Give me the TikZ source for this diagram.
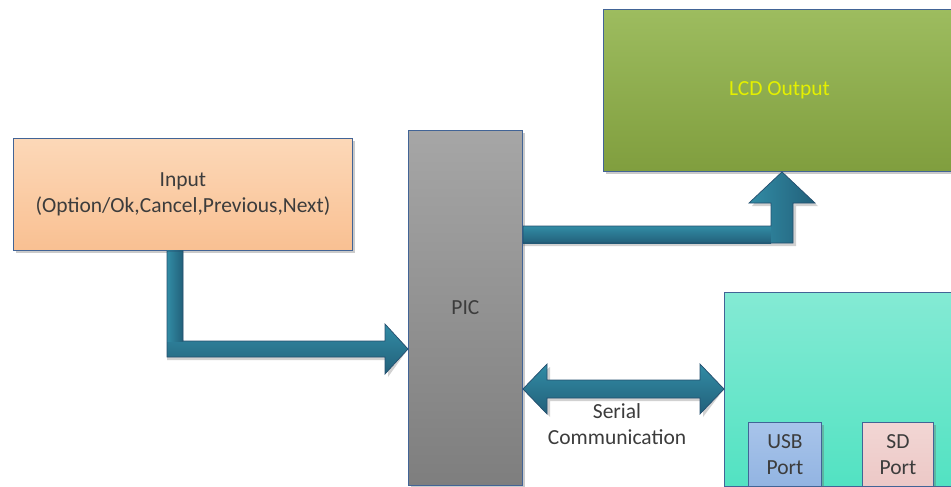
\documentclass[tikz,border=0pt]{standalone}
\usepackage{fontspec}
\setmainfont{Carlito}
\usetikzlibrary{shadows,calc}
\definecolor{edgeblue}{RGB}{66,100,150}
\definecolor{arrowtop}{RGB}{50,140,165}
\definecolor{arrowbot}{RGB}{34,96,122}
\definecolor{arrowedge}{RGB}{36,78,110}
\definecolor{txt}{RGB}{60,60,60}
\begin{document}
\begin{tikzpicture}[x=1pt,y=-1pt,
  blk/.style={draw=edgeblue, line width=0.9pt, anchor=north west, inner sep=0pt,
    font=\fontsize{21.5}{26}\selectfont, text=txt, align=center,
    drop shadow={shadow xshift=3pt, shadow yshift=-3pt, opacity=0.35, fill=black!60}},
  arrowshadow/.style={fill=black!60, opacity=0.3},
  vshade/.style={top color=arrowtop, bottom color=arrowbot},
  hshade/.style={left color=arrowtop, right color=arrowbot},
  arrowline/.style={draw=arrowedge, line width=0.7pt},
  lbl/.style={font=\fontsize{21.5}{26}\selectfont, text=txt, align=center}
]
\useasboundingbox (0,0) rectangle (951,487);

% main blocks
\node[blk, minimum width=339pt, minimum height=112pt,
  top color={rgb,255:red,252;green,216;blue,184}, bottom color={rgb,255:red,249;green,192;blue,146}]
  (in) at (13,138) {Input\\(Option/Ok,Cancel,Previous,Next)};
\node[blk, minimum width=114pt, minimum height=355pt,
  top color={rgb,255:red,166;green,166;blue,166}, bottom color={rgb,255:red,126;green,126;blue,126}]
  (pic) at (408,130) {PIC};
\node[blk, minimum width=352pt, minimum height=162pt, text={rgb,255:red,228;green,240;blue,0},
  top color={rgb,255:red,157;green,188;blue,95}, bottom color={rgb,255:red,128;green,158;blue,62}]
  (lcd) at (603,9) {LCD Output};
\node[blk, minimum width=240pt, minimum height=194pt,
  top color={rgb,255:red,132;green,234;blue,212}, bottom color={rgb,255:red,82;green,226;blue,194}]
  (dev) at (724,292) {};
\node[blk, minimum width=73pt, minimum height=64pt, drop shadow={opacity=0},
  top color={rgb,255:red,168;green,196;blue,234}, bottom color={rgb,255:red,146;green,180;blue,226}]
  (usb) at (748,422) {USB\\Port};
\node[blk, minimum width=71pt, minimum height=64pt, drop shadow={opacity=0},
  top color={rgb,255:red,242;green,214;blue,212}, bottom color={rgb,255:red,236;green,200;blue,198}]
  (sd) at (862,422) {SD\\Port};

% key points of the block arrows
\coordinate (a1) at (in.south -| 167,0);
\coordinate (a2) at (pic.west |- 0,349);
\coordinate (b1) at (pic.east |- 0,226);
\coordinate (b2) at (lcd.south -| 782,0);
\coordinate (c1) at (pic.east |- 0,389);
\coordinate (c2) at (dev.west |- 0,389);

% input -> PIC
\def\arrowA{(a1) -- ++(16,0) |- (385,341) -- (385,324) -- (a2)
  -- (385,374) -- (385,357) -| cycle}
\fill[arrowshadow, xshift=3pt, yshift=-3pt] \arrowA;
\shade[vshade] (167,341) -- (385,341) -- (385,324) -- (a2) -- (385,374) -- (385,357) -- (167,357) -- cycle;
\shade[hshade] (a1) rectangle (183,341);
\draw[arrowline] \arrowA;

% PIC -> LCD
\def\arrowB{(b1) -- (771,226) -- (771,203) -- (749,203) -- (b2)
  -- (815,203) -- (793,203) -- (793,243) -- (pic.east |- 0,243) -- cycle}
\fill[arrowshadow, xshift=3pt, yshift=-3pt] \arrowB;
\shade[vshade] (b1) rectangle (771,243);
\shade[hshade] (771,243) -- (771,203) -- (749,203) -- (b2) -- (815,203) -- (793,203) -- (793,243) -- cycle;
\draw[arrowline] \arrowB;

% PIC <-> device
\def\arrowC{(c1) -- (547,364) -- (547,380) -- (700,380) -- (700,364) -- (c2)
  -- (700,414) -- (700,398) -- (547,398) -- (547,414) -- cycle}
\fill[arrowshadow, xshift=3pt, yshift=-3pt] \arrowC;
\shade[vshade] \arrowC;
\draw[arrowline] \arrowC;

\node[lbl] (ser) at (617,424) {Serial\\Communication};
\end{tikzpicture}
\end{document}
